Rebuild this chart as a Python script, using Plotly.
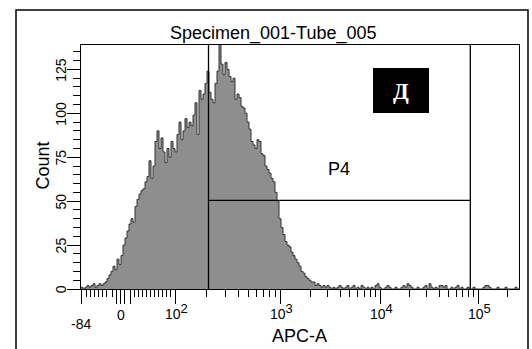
import math
import plotly.graph_objects as go

# ---------------- data ----------------
TITLE = "Specimen_001-Tube_005"
X_LABEL = "APC-A"
Y_LABEL = "Count"
GATE_NAME = "P4"
PANEL_TAG = "Д"

# counts per display channel (biexponential APC-A display, 219 channels)
COUNTS = [
    1, 0, 1, 2, 1, 2, 3, 1, 2, 3, 2, 3, 4, 6, 8, 10, 13, 11, 17, 14,
    19, 25, 29, 33, 37, 40, 38, 47, 51, 54, 56, 57, 61, 64, 73, 63, 70, 84, 90, 80,
    86, 78, 72, 80, 75, 84, 80, 78, 88, 95, 85, 90, 97, 92, 95, 93, 99, 106, 88, 113,
    108, 111, 117, 124, 112, 108, 106, 117, 124, 145, 128, 122, 129, 125, 121, 118, 120, 108, 111, 109,
    104, 103, 100, 95, 91, 84, 82, 80, 85, 84, 77, 76, 70, 68, 66, 63, 61, 55, 50, 40,
    35, 31, 27, 25, 24, 21, 19, 17, 15, 13, 10, 9, 7, 6, 5, 4, 4, 2, 3, 2,
    1, 2, 1, 2, 1, 0, 1, 0, 1, 2, 1, 0, 1, 2, 0, 1, 2, 0, 1, 0,
    2, 1, 0, 1, 0, 1, 0, 2, 3, 1, 0, 0, 1, 2, 1, 0, 0, 1, 0, 0,
    1, 2, 1, 3, 2, 1, 0, 0, 1, 0, 0, 1, 2, 0, 3, 1, 0, 1, 0, 2,
    2, 1, 2, 0, 0, 1, 0, 1, 2, 0, 1, 0, 0, 1, 0, 0, 1, 0, 0, 0,
    0, 1, 2, 2, 1, 0, 0, 0, 1, 0, 0, 0, 1, 0, 0, 0, 0, 1, 0,
]
N_CH = 219

# axis scale (display channels)
X_MIN_LABEL = "-84"
ZERO_POS = 19.85
ZERO_SIDE_TICKS = [17.85, 21.85, 24.5]
LIN_MINOR = [2.85, 4.85, 6.85, 8.85, 10.85, 12.85, 15.85,
             26.85, 28.85, 30.85, 32.85, 34.85, 36.85, 38.85, 40.85, 42.85, 44.5]
DECADES = [2, 3, 4, 5]
DECADE_POS = [47.15, 99.5, 149.5, 198.5]

Y_MAX = 138.9
Y_TICKS = [0, 25, 50, 75, 100, 125]

# gate P4 (display channels / counts)
GATE_X = [63.75, 194.65]
GATE_Y = 50.45

# ---------------- figure ----------------
L, R, T, B = 81, 519, 45, 289
W, H = 532, 349
PW, PH = R - L, B - T


def px2x(p):
    return (p - L) / PW


def py2y(p):
    return (B - p) / PH


xs = list(range(N_CH)) + [N_CH]
ys = COUNTS + [COUNTS[-1]]

fig = go.Figure()
fig.add_trace(go.Scatter(
    x=xs, y=ys, mode="lines", line_shape="hv",
    line=dict(color="#333333", width=1),
    fill="tozeroy", fillcolor="#8e8e8e", hoverinfo="skip", showlegend=False,
))

# ticks
major_x = [0.0] + ZERO_SIDE_TICKS[:1] + [ZERO_POS] + ZERO_SIDE_TICKS[1:] + DECADE_POS
minor_x = list(LIN_MINOR)
for i in range(len(DECADES) - 1):
    a, b = DECADE_POS[i], DECADE_POS[i + 1]
    for k in range(2, 10):
        minor_x.append(a + math.log10(k) * (b - a))
last_w = DECADE_POS[-1] - DECADE_POS[-2]
for k in range(2, 10):
    p = DECADE_POS[-1] + math.log10(k) * last_w
    if p < N_CH:
        minor_x.append(p)

fig.update_xaxes(
    range=[0, N_CH], showgrid=False, zeroline=False,
    showline=True, linecolor="black", linewidth=1, mirror=True,
    ticks="outside", ticklen=14, tickwidth=1, tickcolor="black",
    tickmode="array", tickvals=major_x, showticklabels=False,
    minor=dict(tickvals=minor_x, ticks="outside", ticklen=7, tickwidth=1, tickcolor="black"),
)
fig.update_yaxes(
    range=[0, Y_MAX], showgrid=False, zeroline=False,
    showline=True, linecolor="black", linewidth=1, mirror=True,
    ticks="outside", ticklen=13, tickwidth=1, tickcolor="black",
    tickmode="array", tickvals=Y_TICKS, showticklabels=False,
    minor=dict(tick0=0, dtick=5, ticks="outside", ticklen=7, tickwidth=1, tickcolor="black"),
)

shapes = []
# gate
for gx in GATE_X:
    shapes.append(dict(type="line", xref="x", yref="y domain", x0=gx, x1=gx, y0=0, y1=1,
                       line=dict(color="black", width=1.3), layer="above"))
shapes.append(dict(type="line", xref="x", yref="y", x0=GATE_X[0], x1=GATE_X[1], y0=GATE_Y, y1=GATE_Y,
                   line=dict(color="black", width=1.3), layer="above"))
# outer frame
shapes.append(dict(type="rect", xref="paper", yref="paper",
                   x0=px2x(16), x1=px2x(528), y0=py2y(370), y1=py2y(10),
                   line=dict(color="black", width=1.5), fillcolor="rgba(0,0,0,0)", layer="above"))
# panel tag box
shapes.append(dict(type="rect", xref="paper", yref="paper",
                   x0=px2x(373), x1=px2x(429), y0=py2y(113), y1=py2y(68),
                   line=dict(width=0), fillcolor="black", layer="above"))
fig.update_layout(shapes=shapes)

LBL_FONT = dict(family="Liberation Sans Narrow, Arial Narrow, Liberation Sans, Arial", size=14, color="black")
TXT_FONT = dict(family="Liberation Sans, Arial", size=18, color="black")

ann = []
ann.append(dict(text=TITLE, x=px2x(273), y=py2y(34), xref="paper", yref="paper",
                showarrow=False, font=TXT_FONT, xanchor="center", yanchor="middle"))
ann.append(dict(text=X_LABEL, x=px2x(299), y=py2y(336), xref="paper", yref="paper",
                showarrow=False, font=TXT_FONT, xanchor="center", yanchor="middle"))
ann.append(dict(text=Y_LABEL, x=px2x(42.5), y=py2y(166), xref="paper", yref="paper",
                showarrow=False, font=TXT_FONT, textangle=-90, xanchor="center", yanchor="middle"))
ann.append(dict(text=GATE_NAME, x=129.0, y=68.5, xref="x", yref="y",
                showarrow=False, font=TXT_FONT, xanchor="center", yanchor="middle"))
ann.append(dict(text="<b>" + PANEL_TAG + "</b>", x=px2x(401), y=py2y(91), xref="paper", yref="paper",
                showarrow=False, xanchor="center", yanchor="middle",
                font=dict(family="Liberation Serif, Times New Roman, serif", size=23, color="white")))

# x tick labels
ann.append(dict(text=X_MIN_LABEL, x=0.0, y=py2y(324), xref="x", yref="paper",
                showarrow=False, font=LBL_FONT, xanchor="center", yanchor="middle"))
ann.append(dict(text="0", x=ZERO_POS + 0.2, y=py2y(315), xref="x", yref="paper",
                showarrow=False, font=LBL_FONT, xanchor="center", yanchor="middle"))
for d, p in zip(DECADES, DECADE_POS):
    ann.append(dict(text="10<sup><span style='font-size:13px'>%d</span></sup>" % d,
                    x=p + 0.8, y=py2y(311), xref="x", yref="paper",
                    showarrow=False, font=LBL_FONT, xanchor="center", yanchor="middle"))
# y tick labels
for v in Y_TICKS:
    ann.append(dict(text=str(v), x=px2x(61.3), y=v, xref="paper", yref="y",
                    showarrow=False, font=LBL_FONT, textangle=-90, xanchor="center", yanchor="middle"))

fig.update_layout(
    annotations=ann,
    width=W, height=H,
    margin=dict(l=L, r=W - R, t=T, b=H - B, pad=0),
    paper_bgcolor="white", plot_bgcolor="white",
    showlegend=False,
)

fig.write_html("out.html")
